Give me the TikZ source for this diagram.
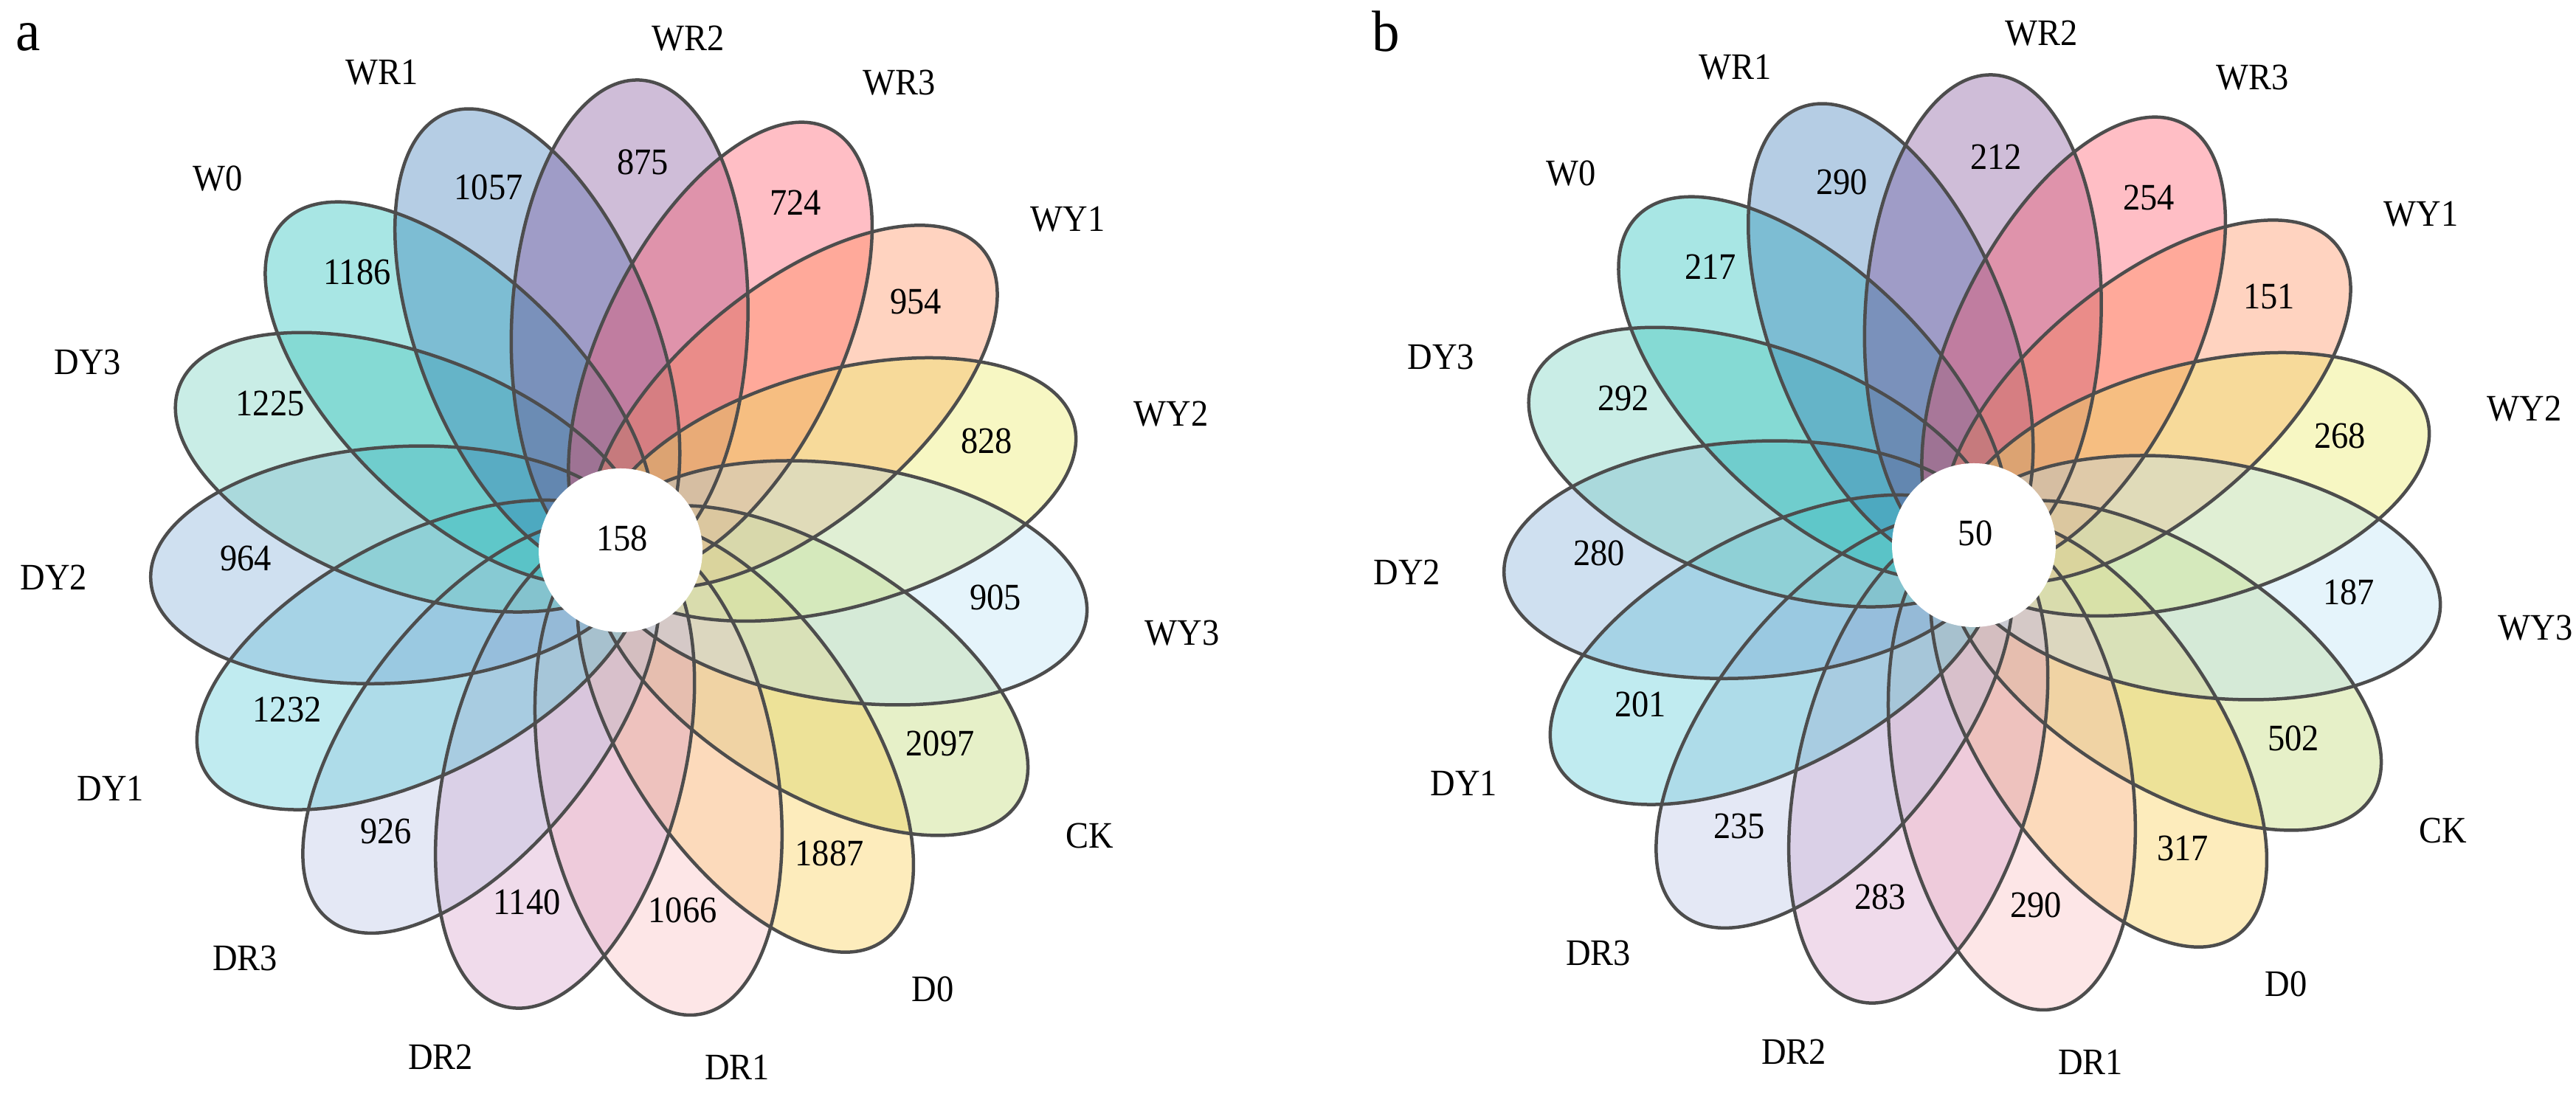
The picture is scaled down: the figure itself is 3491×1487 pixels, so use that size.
\documentclass[tikz,border=0pt]{standalone}
\usepackage{graphicx}
\usepackage{fontspec}
\setmainfont{Liberation Serif}
\usetikzlibrary{calc}
\definecolor{cCK}{RGB}{184,212,98}
\definecolor{cDzero}{RGB}{249,201,64}
\definecolor{cDRone}{RGB}{249,184,186}
\definecolor{cDRtwo}{RGB}{212,152,198}
\definecolor{cDRthree}{RGB}{178,189,226}
\definecolor{cDYone}{RGB}{75,198,212}
\definecolor{cDYtwo}{RGB}{118,166,212}
\definecolor{cDYthree}{RGB}{101,204,184}
\definecolor{cWzero}{RGB}{6,184,178}
\definecolor{cWRone}{RGB}{44,112,178}
\definecolor{cWRtwo}{RGB}{118,66,144}
\definecolor{cWRthree}{RGB}{255,69,89}
\definecolor{cWYone}{RGB}{255,129,75}
\definecolor{cWYtwo}{RGB}{232,232,84}
\definecolor{cWYthree}{RGB}{181,224,244}
\definecolor{edgegray}{RGB}{77,77,77}
\newcommand{\tx}[1]{\scalebox{1}[1.09]{#1}}
\tikzset{
  petalfill/.style={fill opacity=0.35},
  petaledge/.style={draw=edgegray, line width=0.9pt},
  lab/.style={font=\fontsize{9.3pt}{10pt}\selectfont, inner sep=0pt, text=black},
  panel/.style={font=\fontsize{15pt}{16pt}\selectfont, inner sep=0pt, text=black},
}
\newcommand{\flowerplot}[4]{%
\begin{scope}[shift={#2}]
  \foreach \col [count=\j from 0] in {cCK,cDzero,cDRone,cDRtwo,cDRthree,cDYone,cDYtwo,cDYthree,cWzero,cWRone,cWRtwo,cWRthree,cWYone,cWYtwo,cWYthree} {
    \pgfmathsetmacro{\ang}{-32.3-24*\j}
    \begin{scope}[rotate=\ang]
      \fill[\col, petalfill] (305,0) ellipse [x radius=66.6pt, y radius=32pt];
    \end{scope}
  }
  \foreach \j in {0,...,14} {
    \pgfmathsetmacro{\ang}{-32.3-24*\j}
    \begin{scope}[rotate=\ang]
      \draw[petaledge] (305,0) ellipse [x radius=66.6pt, y radius=32pt];
    \end{scope}
  }
  \fill[white] (0,0) circle [radius=22.2pt];
  \node[lab] (#1-core) at (2,16) {\tx{#4}};
  \foreach \nm [count=\j from 0] in {CK,D0,DR1,DR2,DR3,DY1,DY2,DY3,W0,WR1,WR2,WR3,WY1,WY2,WY3} {
    \pgfmathsetmacro{\lx}{{636,423,158,-244,-509,-691,-768,-722,-546,-323,92,378,606,746,761}[\j]}
    \pgfmathsetmacro{\ly}{{-387,-595,-701,-687,-553,-323,-37,255,504,648,694,634,449,185,-112}[\j]}
    \node[lab] (#1-\nm) at (\lx,\ly) {\tx{\nm}};
  }
  \foreach \v [count=\j from 0] in {#3} {
    \pgfmathsetmacro{\nx}{{433,283,84,-127,-318,-452,-508,-475,-357,-179,30,237,400,496,508}[\j]}
    \pgfmathsetmacro{\ny}{{-262,-411,-488,-477,-381,-216,-11,199,377,492,526,471,337,148,-64}[\j]}
    \node[lab] (#1-n\j) at (\nx,\ny) {\tx{\v}};
  }
\end{scope}}
\begin{document}
\begin{tikzpicture}[x=0.2pt,y=0.2pt]
\useasboundingbox (0,0) rectangle (3491,1487);
\flowerplot{A}{(841,741)}{2097,1887,1066,1140,926,1232,964,1225,1186,1057,875,724,954,828,905}{158}
\flowerplot{B}{(2675,748)}{502,317,290,283,235,201,280,292,217,290,212,254,151,268,187}{50}
\node[panel] (pa) at (38,1437) {\scalebox{1}[1.05]{a}};
\node[panel] (pb) at (1878,1444) {\scalebox{1}[1.05]{b}};
\end{tikzpicture}
\end{document}
